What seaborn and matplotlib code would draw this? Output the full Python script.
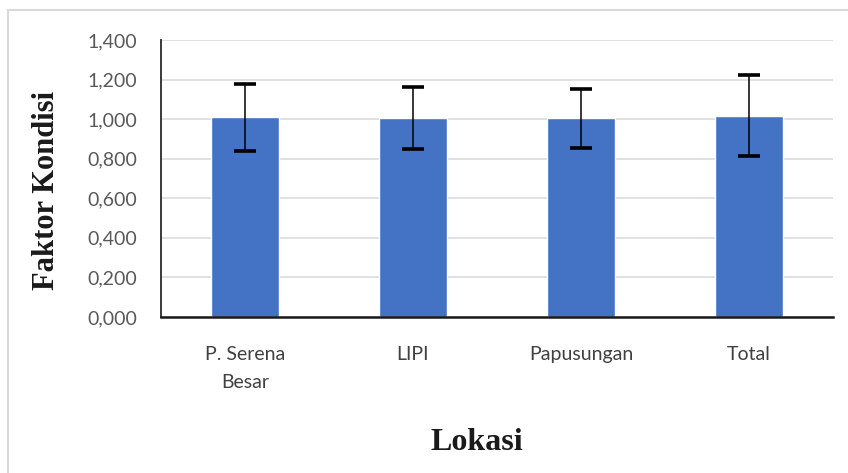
import matplotlib
matplotlib.use("Agg")
import matplotlib.pyplot as plt
import matplotlib.patches as mpatches
import seaborn as sns
import pandas as pd

# Data
categories = ["P. Serena\nBesar", "LIPI", "Papusungan", "Total"]
means = [1.010, 1.004, 1.004, 1.018]
sds = [0.170, 0.157, 0.150, 0.206]
y_ticks = [0.0, 0.2, 0.4, 0.6, 0.8, 1.0, 1.2, 1.4]
y_tick_labels = [f"{v:.3f}".replace(".", ",") for v in y_ticks]

df = pd.DataFrame({"Lokasi": categories, "Faktor": means})

sns.set_theme(style="white")
plt.rcParams['font.family'] = ['Lato', 'DejaVu Sans']

W, H = 848, 473
fig = plt.figure(figsize=(W / 100, H / 100), dpi=100)
fig.patch.set_facecolor("white")

ax_left, ax_right = 161, 833
ax_top, ax_bottom = 40, 317
ax = fig.add_axes([ax_left / W, 1 - ax_bottom / H, (ax_right - ax_left) / W, (ax_bottom - ax_top) / H])

sns.barplot(data=df, x="Lokasi", y="Faktor", color="#4472C4", saturation=1,
            width=0.4, errorbar=None, ax=ax, zorder=2)
ax.errorbar(x=list(range(len(categories))), y=means, yerr=sds, fmt="none",
            ecolor="black", elinewidth=1.1, capsize=8, capthick=2.6, zorder=3)

ax.set_ylim(0, 1.4)
ax.set_yticks(y_ticks)
ax.set_yticklabels(y_tick_labels)
ax.set_xlim(-0.5, len(categories) - 0.5)
ax.grid(axis="y", color="#d9d9d9", linewidth=1.1, zorder=0)
ax.set_axisbelow(True)

ax.tick_params(axis="y", length=0, pad=17, labelsize=14, labelcolor="#595959")
ax.tick_params(axis="x", length=0, pad=21, labelsize=14, labelcolor="#404040")
for lbl in ax.get_xticklabels():
    lbl.set_linespacing(1.75)
    lbl.set_verticalalignment("top")

for s in ["top", "right"]:
    ax.spines[s].set_visible(False)
ax.spines["left"].set_color("#3a3a3a")
ax.spines["left"].set_linewidth(1.4)
ax.spines["bottom"].set_color("#1a1a1a")
ax.spines["bottom"].set_linewidth(1.8)

ax.set_xlabel("")
ax.set_ylabel("")

fig.text(47 / W, 1 - 190 / H, "Faktor Kondisi", rotation=90, ha="center", va="center",
         fontsize=22, fontweight="bold", family=["Liberation Serif", "DejaVu Serif"], color="#1a1a1a")
fig.text(477 / W, 1 - 442 / H, "Lokasi", ha="center", va="center",
         fontsize=23, fontweight="bold", family=["Liberation Serif", "DejaVu Serif"], color="#1a1a1a")

border = mpatches.Rectangle((8 / W, -0.2), 1.2, (1 - 10 / H) + 0.2, transform=fig.transFigure,
                            fill=False, edgecolor="#d9d9d9", linewidth=1.5)
fig.patches.append(border)

fig.savefig("out.png", dpi=100)
